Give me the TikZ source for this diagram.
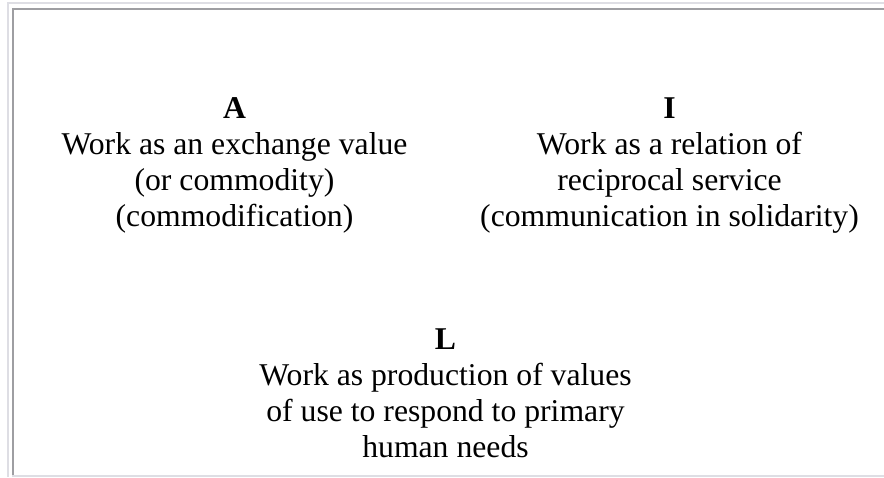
\documentclass[tikz,border=0pt]{standalone}
\usepackage{fontspec}
\setmainfont{Liberation Serif}
\definecolor{bordlight}{RGB}{222,222,228}
\definecolor{borddark}{RGB}{158,158,162}
\tikzset{
  cell/.style={anchor=north, inner sep=0pt, align=center,
    font=\fontsize{31.7}{36}\selectfont},
}
\begin{document}
\begin{tikzpicture}[x=1pt,y=-1pt]
\useasboundingbox (0,0) rectangle (884,477);
% table borders
\fill[bordlight] (7,2) rectangle (884,4);
\fill[bordlight] (7,2) rectangle (9,477);
\fill[bordlight] (12,475) rectangle (884,477);
\fill[borddark] (12,8) rectangle (884,10);
\fill[borddark] (12,8) rectangle (14,475);
% cells
\node[cell] (a) at (234.5,97.5) {\textbf{A}\\Work as an exchange value\\(or commodity)\\(commodification)};
\node[cell] (i) at (669.5,97.5) {\textbf{I}\\Work as a relation of\\reciprocal service\\(communication in solidarity)};
\node[cell] (l) at (445.5,329) {\textbf{L}\\Work as production of values\\of use to respond to primary\\human needs};
\end{tikzpicture}
\end{document}
